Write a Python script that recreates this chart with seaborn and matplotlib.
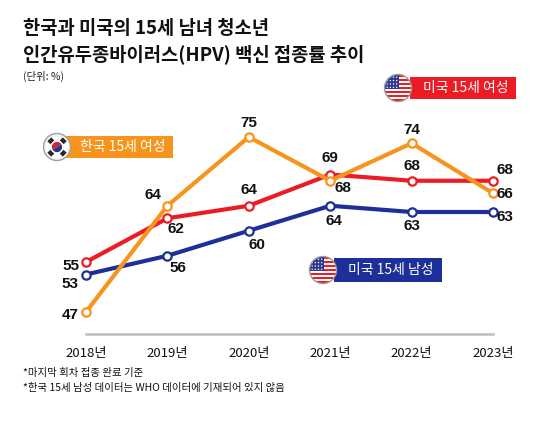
import numpy as np
import pandas as pd
import matplotlib
matplotlib.use("Agg")
import matplotlib.pyplot as plt
from matplotlib.patches import Rectangle, Circle, Wedge
import seaborn as sns

# 데이터 (단위: %)
years = [2018, 2019, 2020, 2021, 2022, 2023]
us_female = [55, 62, 64, 69, 68, 68]
kr_female = [47, 64, 75, 68, 74, 66]
us_male = [53, 56, 60, 64, 63, 63]
tick_labels = ["2018년", "2019년", "2020년", "2021년", "2022년", "2023년"]

RED = "#ec1c24"
ORANGE = "#f7941d"
BLUE = "#1d2f98"

sns.set_theme(style="white")
plt.rcParams["font.family"] = ["Noto Sans CJK KR", "DejaVu Sans"]

W, H = 560, 438
fig = plt.figure(figsize=(W / 100, H / 100), dpi=100)
fig.patch.set_facecolor("white")

ax = fig.add_axes([40 / W, (H - 334) / H, 500 / W, 234 / H])
ax.set_facecolor("none")

df = pd.DataFrame({"year": years, "us_f": us_female, "kr_f": kr_female, "us_m": us_male})

# 그리는 순서: 파랑 -> 빨강 -> 주황 (주황이 맨 위)
series = [
    ("us_m", BLUE, [(-16, -9), (11, -12), (8, -14), (4, -15), (0, -14), (12, -5)]),
    ("us_f", RED, [(-15, -4), (9, -11), (0, 16), (0, 17), (0, 15), (12, 11)]),
    ("kr_f", ORANGE, [(-16, -3), (-14, 11), (0, 14), (13, -7), (0, 13), (12, -1)]),
]

for col, color, offs in series:
    sns.lineplot(data=df, x="year", y=col, ax=ax, color=color, lw=3.0,
                 marker="o", markersize=6, markerfacecolor="white",
                 markeredgecolor=color, markeredgewidth=1.6,
                 solid_joinstyle="round", clip_on=False)
    for x, y, (dx, dy) in zip(df["year"], df[col], offs):
        ax.annotate(str(y), (x, y), xytext=(dx, dy), textcoords="offset pixels",
                    ha="center", va="center", fontsize=11, fontweight="bold",
                    color="#111111", family=["Liberation Sans", "DejaVu Sans"])

ax.set_xlim(2017.435, 2023.577)
ax.set_ylim(43.48, 80.92)
ax.set_xticks(years)
ax.set_xticklabels(tick_labels)
ax.set_yticks([])
ax.set_xlabel("")
ax.set_ylabel("")
for s in ["top", "left", "right"]:
    ax.spines[s].set_visible(False)
ax.spines["bottom"].set_color("#bdbdbd")
ax.spines["bottom"].set_linewidth(1.8)
ax.spines["bottom"].set_bounds(2018, 2023)
ax.tick_params(axis="x", direction="in", length=5, width=0.8, color="#999999",
               pad=9, labelsize=9.5, labelcolor="#111111")

# 오버레이 (픽셀 좌표)
ov = fig.add_axes([0, 0, 1, 1], zorder=5)
ov.set_xlim(0, W)
ov.set_ylim(H, 0)
ov.axis("off")
ov.patch.set_alpha(0)


def us_flag(cx, cy, r):
    clip = Circle((cx, cy), r, transform=ov.transData)
    n = 13
    for i in range(n):
        rect = Rectangle((cx - r, cy - r + i * 2 * r / n), 2 * r, 2 * r / n,
                         color=RED if i % 2 == 0 else "white", lw=0)
        ov.add_patch(rect)
        rect.set_clip_path(clip)
    canton = Rectangle((cx - r, cy - r), r * 1.05, r * 2 * 7 / n, color="#2b3a8f", lw=0)
    ov.add_patch(canton)
    canton.set_clip_path(clip)
    for sx in np.linspace(cx - r * 0.8, cx - r * 0.1, 4):
        for sy in np.linspace(cy - r * 0.8, cy - r * 0.05, 4):
            st = Circle((sx, sy), 0.7, color="white", lw=0)
            ov.add_patch(st)
            st.set_clip_path(clip)
    ov.add_patch(Circle((cx, cy), r, fill=False, ec="#9a9a9a", lw=1.0))


def kr_flag(cx, cy, r):
    ov.add_patch(Circle((cx, cy), r, color="#f4f4f4", ec="#a0a0a0", lw=1.0))
    ov.add_patch(Circle((cx, cy), r * 0.8, color="white", lw=0))
    tr = r * 0.38
    ov.add_patch(Wedge((cx, cy), tr, 150, 330, color="#d3213a", lw=0))
    ov.add_patch(Wedge((cx, cy), tr, -30, 150, color="#1f3b8f", lw=0))
    for ang in [45, 135, 225, 315]:
        a = np.deg2rad(ang)
        ux, uy = np.cos(a), np.sin(a)
        px, py = -uy, ux
        for k in range(3):
            d = r * (0.55 + k * 0.1)
            x0, y0 = cx + ux * d, cy + uy * d
            L = r * 0.2
            ov.plot([x0 - px * L, x0 + px * L], [y0 - py * L, y0 + py * L],
                    color="#111111", lw=1.0, solid_capstyle="butt")


def tag(x0, y0, x1, y1, color, text):
    ov.add_patch(Rectangle((x0, y0), x1 - x0, y1 - y0, color=color, lw=0))
    ov.text((x0 + x1) / 2 + 3, (y0 + y1) / 2, text, color="white", fontsize=10,
            ha="center", va="center")


tag(410, 77, 516, 99, RED, "미국 15세 여성")
us_flag(398, 88, 13.5)
tag(66, 136, 173, 158, ORANGE, "한국 15세 여성")
kr_flag(57, 147, 13.5)
tag(334, 258, 442, 282, BLUE, "미국 15세 남성")
us_flag(323, 270, 13.5)

# 제목 / 주석
fig.text(23 / W, 1 - 28 / H, "한국과 미국의 15세 남녀 청소년", fontsize=13.5,
         fontweight="bold", va="center", ha="left", color="#111111")
fig.text(23 / W, 1 - 54 / H, "인간유두종바이러스(HPV) 백신 접종률 추이", fontsize=13.5,
         fontweight="bold", va="center", ha="left", color="#111111")
fig.text(23 / W, 1 - 76 / H, "(단위: %)", fontsize=7.5, va="center", ha="left",
         color="#222222")
fig.text(23 / W, 1 - 373 / H, "*마지막 회차 접종 완료 기준", fontsize=7.5,
         va="center", ha="left", color="#111111")
fig.text(23 / W, 1 - 388 / H, "*한국 15세 남성 데이터는 WHO 데이터에 기재되어 있지 않음",
         fontsize=7.5, va="center", ha="left", color="#111111")

fig.savefig("out.png", dpi=100)
